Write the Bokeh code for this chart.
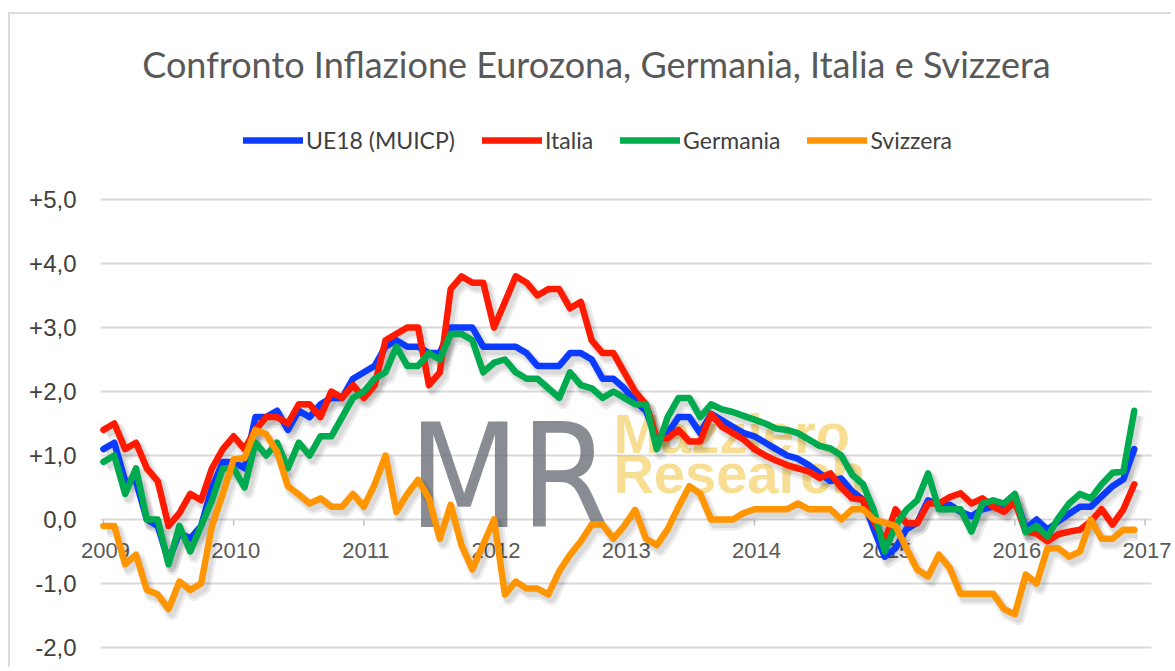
from bokeh.plotting import figure
from bokeh.models import ColumnDataSource, Legend, LegendItem, FixedTicker, Range1d, Label, Grid
from bokeh.transform import dodge
from bokeh.core.properties import value
from bokeh.embed import file_html
from bokeh.resources import INLINE

# ---------------- data (monthly, Jan 2009 - Dec 2016) ----------------
title_text = "Confronto Inflazione Eurozona, Germania, Italia e Svizzera"
year_labels = ["2009", "2010", "2011", "2012", "2013", "2014", "2015", "2016", "2017"]
year_ticks = [0, 12, 24, 36, 48, 60, 72, 84, 96]

y_ticks = [-2, -1, 0, 1, 2, 3, 4, 5]
y_tick_labels = ["-2,0", "-1,0", "0,0", "+1,0", "+2,0", "+3,0", "+4,0", "+5,0"]

series_names = ["UE18 (MUICP)", "Italia", "Germania", "Svizzera"]

ue18 = [1.1, 1.2, 0.6, 0.6, 0.0, -0.1, -0.65, -0.2, -0.3, -0.1, 0.5, 0.9,
        0.9, 0.8, 1.6, 1.6, 1.7, 1.4, 1.7, 1.6, 1.8, 1.9, 1.9, 2.2,
        2.3, 2.4, 2.7, 2.8, 2.7, 2.7, 2.6, 2.6, 3.0, 3.0, 3.0, 2.7,
        2.7, 2.7, 2.7, 2.6, 2.4, 2.4, 2.4, 2.6, 2.6, 2.5, 2.2, 2.2,
        2.05, 1.85, 1.7, 1.25, 1.35, 1.6, 1.6, 1.35, 1.65, 1.55, 1.45, 1.35,
        1.3, 1.2, 1.1, 1.0, 0.95, 0.85, 0.72, 0.6, 0.64, 0.44, 0.31, -0.15,
        -0.58, -0.45, -0.15, -0.05, 0.3, 0.23, 0.23, 0.12, 0.05, 0.16, 0.2, 0.16,
        0.36, -0.14, 0.0, -0.16, -0.03, 0.09, 0.2, 0.2, 0.36, 0.52, 0.63, 1.1]

italia = [1.4, 1.5, 1.1, 1.2, 0.8, 0.6, -0.1, 0.1, 0.4, 0.3, 0.8, 1.1,
          1.3, 1.1, 1.4, 1.6, 1.6, 1.5, 1.8, 1.8, 1.6, 2.0, 1.9, 2.1,
          1.9, 2.1, 2.8, 2.9, 3.0, 3.0, 2.1, 2.3, 3.6, 3.8, 3.7, 3.7,
          3.0, 3.4, 3.8, 3.7, 3.5, 3.6, 3.6, 3.3, 3.4, 2.8, 2.6, 2.6,
          2.3, 2.0, 1.8, 1.27, 1.27, 1.4, 1.22, 1.22, 1.65, 1.45, 1.35, 1.25,
          1.1, 1.0, 0.92, 0.85, 0.8, 0.75, 0.65, 0.72, 0.5, 0.33, 0.31, -0.03,
          -0.34, 0.16, -0.06, -0.06, 0.25, 0.25, 0.35, 0.41, 0.25, 0.33, 0.2, 0.12,
          0.28, -0.19, -0.22, -0.34, -0.23, -0.19, -0.16, -0.03, 0.16, -0.08, 0.16, 0.55]

germania = [0.9, 1.0, 0.4, 0.8, 0.0, 0.0, -0.7, -0.1, -0.5, -0.1, 0.3, 0.8,
            0.8, 0.5, 1.2, 1.0, 1.2, 0.8, 1.2, 1.0, 1.3, 1.3, 1.6, 1.9,
            2.0, 2.2, 2.3, 2.7, 2.4, 2.4, 2.6, 2.5, 2.9, 2.9, 2.8, 2.3,
            2.45, 2.5, 2.3, 2.2, 2.2, 2.05, 1.9, 2.3, 2.1, 2.05, 1.9, 2.0,
            1.9, 1.8, 1.8, 1.1, 1.6, 1.9, 1.9, 1.6, 1.8, 1.72, 1.68, 1.62,
            1.56, 1.5, 1.42, 1.4, 1.35, 1.25, 1.15, 1.11, 1.0, 0.7, 0.55, 0.15,
            -0.5, -0.1, 0.15, 0.3, 0.72, 0.16, 0.16, 0.16, -0.19, 0.25, 0.3, 0.25,
            0.4, -0.2, -0.1, -0.27, 0.02, 0.25, 0.4, 0.33, 0.55, 0.73, 0.75, 1.7]

svizzera = [-0.1, -0.1, -0.7, -0.55, -1.1, -1.17, -1.4, -0.97, -1.1, -1.0, -0.1, 0.4,
            0.94, 0.96, 1.4, 1.33, 1.06, 0.52, 0.39, 0.25, 0.33, 0.2, 0.2, 0.4,
            0.2, 0.55, 1.0, 0.12, 0.4, 0.62, 0.33, -0.3, 0.23, -0.4, -0.78, -0.39,
            0.0, -1.17, -0.97, -1.08, -1.08, -1.17, -0.81, -0.55, -0.34, -0.08, -0.08, -0.3,
            -0.1, 0.15, -0.3, -0.4, -0.15, 0.2, 0.52, 0.4, 0.0, 0.0, 0.0, 0.1,
            0.16, 0.16, 0.16, 0.16, 0.25, 0.16, 0.16, 0.16, 0.0, 0.16, 0.16, 0.0,
            -0.05, -0.1, -0.45, -0.78, -0.89, -0.55, -0.76, -1.16, -1.16, -1.16, -1.16, -1.4,
            -1.48, -0.86, -1.0, -0.45, -0.45, -0.58, -0.5, 0.0, -0.3, -0.3, -0.16, -0.16]

months = list(range(len(ue18)))

source = ColumnDataSource(dict(x=months, ue18=ue18, italia=italia,
                               germania=germania, svizzera=svizzera))
ticks_src = ColumnDataSource(dict(x=year_ticks, y=[0] * len(year_ticks), label=year_labels))

colors = ["#0A3BFF", "#FF1A00", "#00AA4F", "#FF9500"]
cols = ["ue18", "italia", "germania", "svizzera"]

p = figure(width=1163, height=655, output_backend="svg", toolbar_location=None,
           x_axis_type=None,
           x_range=Range1d(-2.30, 98.62), y_range=Range1d(-2.344, 7.891),
           min_border_left=68, min_border_right=0, min_border_bottom=0, min_border_top=0)
p.styles = {"margin-left": "8px", "margin-top": "12px",
            "border-left": "2px solid #dcdcdc", "border-top": "2px solid #dcdcdc"}
p.outline_line_color = None
p.background_fill_color = "white"
p.border_fill_color = "white"

# title (drawn inside the canvas above the plotting area)
p.add_layout(Label(x=45.44, y=7.125, text=title_text, text_font="Lato",
                   text_font_size="36px", text_color="#595959",
                   text_align="center", text_baseline="middle"))

# grid & axes
p.xgrid.visible = False
p.ygrid.grid_line_color = "#d9d9d9"
p.ygrid.grid_line_width = 2
p.ygrid.ticker = FixedTicker(ticks=y_ticks)
if "cross_bounds" in Grid.properties():
    p.ygrid.cross_bounds = (-0.28, 96.6)
yax = p.yaxis[0]
yax.ticker = FixedTicker(ticks=y_ticks)
yax.major_label_overrides = {t: l for t, l in zip(y_ticks, y_tick_labels)}
yax.axis_line_color = None
yax.major_tick_line_color = None
yax.minor_tick_line_color = None
yax.major_tick_out = 0
yax.major_tick_in = 0
yax.major_label_standoff = 2
yax.major_label_text_font = "Liberation Sans"
yax.major_label_text_font_size = "24px"
yax.major_label_text_color = "#404040"

# watermark
p.add_layout(Label(x=28.1, y=0.67, text="MR", text_font="DejaVu Sans Condensed, Liberation Sans",
                   text_font_size="144px", text_color="#6b7178", text_alpha=0.8,
                   text_baseline="alphabetic", level="underlay"))
p.add_layout(Label(x=47.0, y=1.34, text="Mazziero", text_font="Liberation Sans",
                   text_font_style="bold", text_font_size="56px", text_color="#f2c84b",
                   text_alpha=0.6, text_baseline="alphabetic", level="underlay"))
p.add_layout(Label(x=47.0, y=0.72, text="Research", text_font="Liberation Sans",
                   text_font_style="bold", text_font_size="56px", text_color="#f2c84b",
                   text_alpha=0.6, text_baseline="alphabetic", level="underlay"))

# year ticks and labels along the zero line
p.ray(x="x", y="y", length=6, length_units="screen", angle=-1.5708,
      line_color="#bfbfbf", line_width=1.5, source=ticks_src)
p.text(x="x", y="y", text="label", source=ticks_src, text_align="center",
       text_baseline="middle", x_offset=2, y_offset=31, text_font=value("Liberation Sans"),
       text_font_size="22px", text_color="#595959")

# shadows
for c in cols:
    p.line(x=dodge("x", 0.35, range=p.x_range), y=dodge(c, -0.08, range=p.y_range),
           source=source, line_color="#000000", line_alpha=0.07, line_width=12,
           line_join="round")
    p.line(x=dodge("x", 0.3, range=p.x_range), y=dodge(c, -0.07, range=p.y_range),
           source=source, line_color="#000000", line_alpha=0.08, line_width=8,
           line_join="round")

renderers = []
for c, col in zip(cols, colors):
    r = p.line(x="x", y=c, source=source, line_color=col, line_width=6.5,
               line_join="round", line_cap="round")
    renderers.append(r)

legend = Legend(items=[LegendItem(label=n, renderers=[r]) for n, r in zip(series_names, renderers)],
                orientation="horizontal", location=(161, 511), padding=4, margin=0,
                spacing=27, label_standoff=3, glyph_width=60, glyph_height=22,
                border_line_alpha=0, background_fill_alpha=0,
                label_text_font="Lato", label_text_font_size="23px",
                label_text_color="#404040")
p.add_layout(legend)

open("out.html", "w").write(file_html(p, INLINE))
